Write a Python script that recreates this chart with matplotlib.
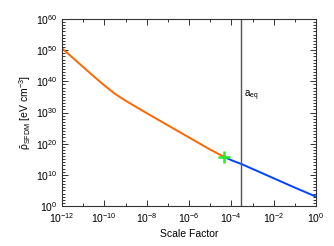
import numpy as np
import matplotlib
matplotlib.use("Agg")
import matplotlib.pyplot as plt
from matplotlib.ticker import NullFormatter

plt.rcParams['font.family'] = ['Liberation Sans', 'DejaVu Sans']
plt.rcParams['mathtext.default'] = 'regular'

# DATA (log10 values)
log_a_early = [-12, -11.5, -11, -10.5, -10, -9.5, -9, -8, -7, -6, -5, -4.35]
log_rho_early = [50.6, 47.6, 44.6, 41.6, 38.7, 36.0, 33.8, 29.8, 25.9, 22.0, 18.1, 15.8]

log_a_late = [-4.35, -4, -3.5, -3, -2, -1, 0]
log_rho_late = [15.8, 14.7, 13.4, 11.9, 8.9, 5.9, 3.0]

log_a_eq = -3.56
x_ticks = [1e-12, 1e-10, 1e-8, 1e-6, 1e-4, 1e-2, 1e0]
y_ticks = [1e0, 1e10, 1e20, 1e30, 1e40, 1e50, 1e60]

a_early = 10.0 ** np.array(log_a_early)
rho_early = 10.0 ** np.array(log_rho_early)
a_late = 10.0 ** np.array(log_a_late)
rho_late = 10.0 ** np.array(log_rho_late)
a_eq = 10.0 ** log_a_eq

fig = plt.figure(figsize=(3.34, 2.46), dpi=100)
ax = fig.add_axes([62 / 334, 1 - 206 / 246, 254 / 334, 187 / 246])

ax.plot(a_early, rho_early, color="#ff6600", lw=1.4)
ax.plot(a_late, rho_late, color="#0044ff", lw=1.4)
ax.axvline(a_eq, color="#555555", lw=1.0)
ax.plot([a_early[-1]], [rho_early[-1]], marker="+", color="#22ee22",
        markersize=8, mew=1.8)
ax.text(a_eq * 1.5, 10 ** 35.5, "a$_{eq}$", fontsize=7, va="center")

ax.set_xscale("log")
ax.set_yscale("log")
ax.set_xlim(1e-12, 1e0)
ax.set_ylim(1e0, 1e60)
ax.set_xticks(x_ticks)
ax.set_xticks([10.0 ** k for k in range(-12, 1)], minor=True)
ax.set_yticks(y_ticks)
ax.set_yticks([10.0 ** k for k in range(0, 61)], minor=True)
ax.set_xticklabels(["$10^{%d}$" % int(np.log10(t)) for t in x_ticks])
ax.set_yticklabels(["$10^{%d}$" % int(np.log10(t)) for t in y_ticks])
ax.xaxis.set_minor_formatter(NullFormatter())
ax.yaxis.set_minor_formatter(NullFormatter())

ax.tick_params(which="both", direction="in", top=True, right=True,
               labelsize=7.5, width=0.7, color="#333333")
ax.tick_params(which="major", length=4)
ax.tick_params(which="minor", length=2)
for s in ax.spines.values():
    s.set_linewidth(0.8)
    s.set_color("#333333")

ax.set_xlabel("Scale Factor", fontsize=7.5, labelpad=3)
ax.set_ylabel(r"$\bar{\rho}_{SFDM}$ [eV cm$^{-3}$]", fontsize=7.5, labelpad=2)

fig.savefig("out.png", dpi=100)
